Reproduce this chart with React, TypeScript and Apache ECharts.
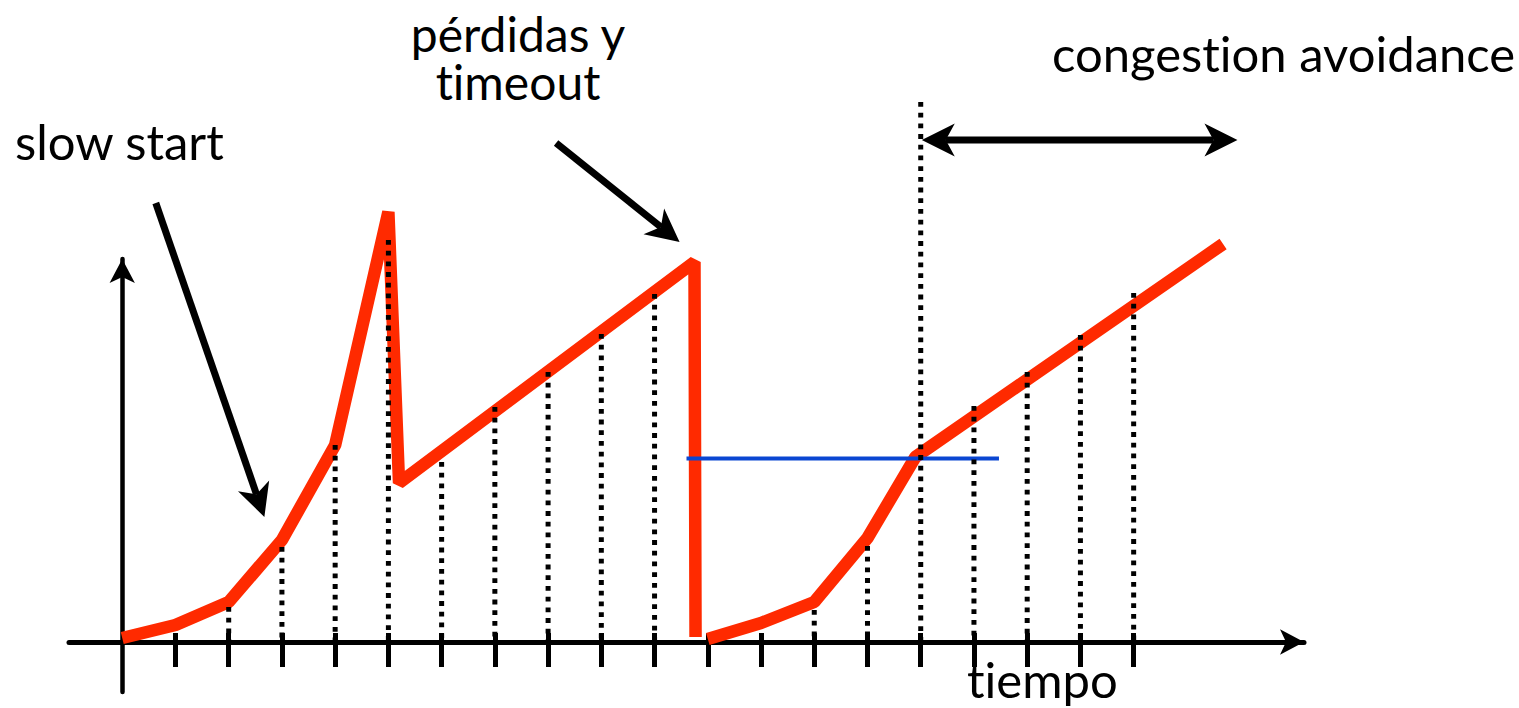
import React, { useEffect, useRef } from 'react';
import * as echarts from 'echarts';

// congestion window, first run (slow start, loss, linear growth, timeout)
const cwndRun1: number[][] = [
  [0, 0.4], [1, 1.7], [2, 4.0], [3, 10.2], [4, 19.7], [5, 43.0],
  [5.2, 15.9], [10.75, 38.0], [10.77, 0.5],
];
// congestion window, second run (slow start up to threshold, then congestion avoidance)
const cwndRun2: number[][] = [
  [11, 0.3], [12, 1.9], [13, 4.0], [14, 10.4], [14.9, 18.5], [20.68, 39.8],
];
// dotted drop lines at each time step
const dropX: number[] = [2, 3, 4, 5, 6, 7, 8, 9, 10, 13, 14, 15, 16, 17, 18, 19];
const dropTop: number[] = [3.5, 9.5, 19.7, 40.2, 18.0, 23.5, 27.0, 30.8, 34.8, 3.2, 9.6, 54.0, 23.6, 27.0, 30.7, 34.9];
// threshold (blue)
const thresholdLine: number[][] = [[10.6, 18.35], [16.47, 18.35]];
// time ticks
const tickValues: number[] = [1, 2, 3, 4, 5, 6, 7, 8, 9, 10, 11, 12, 13, 14, 15, 16, 17, 18, 19];
// annotation arrows
const arrowFrom: number[][] = [[0.63, 43.9], [8.15, 49.9], [15.02, 50.2]];
const arrowTo: number[][] = [[2.67, 12.5], [10.47, 40.0], [20.95, 50.2]];
const arrowBoth: number[] = [0, 0, 1];
// annotation texts
const labelSlow = 'slow start';
const labelLoss = 'pérdidas y\ntimeout';
const labelCA = 'congestion avoidance';
const labelTime = 'tiempo';

const RED = '#ff2a00';
const BLUE = '#0a46d2';
const FONT = 'Lato';
const FS = 49;

export default function App() {
  const ref = useRef<HTMLDivElement>(null);
  useEffect(() => {
    if (!ref.current) return;
    const chart = echarts.init(ref.current, undefined, { renderer: 'svg' });
    const dropData = dropX.map((x, i) => [x, dropTop[i]]);
    const arrowData = arrowFrom.map((f, i) => [f[0], f[1], arrowTo[i][0], arrowTo[i][1], arrowBoth[i]]);
    const txt = (text: string, x: number, baseline: number, align: string = 'left') => ({
      type: 'text',
      x,
      y: baseline - 0.3225 * FS,
      z: 10,
      style: { text, fontFamily: FONT, fontSize: FS, fill: '#000', align, verticalAlign: 'middle' },
    });
    const xBase = {
      type: 'value', min: -1, max: 22.2, interval: 1,
      axisLabel: { show: false },
      splitLine: { show: false },
    };
    chart.setOption({
      animation: false,
      backgroundColor: '#fff',
      grid: { left: 69, right: 215, top: 259, bottom: 16, containLabel: false, outerBoundsMode: 'none' },
      xAxis: [
        {
          ...xBase,
          axisLine: {
            show: true, onZero: true, symbol: ['none', 'arrow'], symbolSize: [19, 24],
            lineStyle: { color: '#000', width: 5 },
          },
          axisTick: { show: true, customValues: tickValues, length: 25, lineStyle: { color: '#000', width: 5 } },
        },
        {
          ...xBase,
          position: 'bottom',
          offset: -50,
          axisLine: { show: false, onZero: false },
          axisTick: { show: true, inside: true, customValues: tickValues, length: 9, lineStyle: { color: '#000', width: 5 } },
        },
      ],
      yAxis: {
        type: 'value', min: -5, max: 38.3,
        axisLine: {
          show: true, onZero: true, symbol: ['none', 'arrow'], symbolSize: [19, 24],
          lineStyle: { color: '#000', width: 4.5 },
        },
        axisTick: { show: false },
        axisLabel: { show: false },
        splitLine: { show: false },
      },
      graphic: [
        txt(labelSlow, 15, 157),
        {
          type: 'text',
          x: 518,
          y: 49 - 24 - 0.3225 * 48,
          z: 10,
          style: {
            text: labelLoss, fontFamily: FONT, fontSize: 48, lineHeight: 48, fill: '#000',
            align: 'center', verticalAlign: 'top',
          },
        },
        txt(labelCA, 1052, 69),
        txt(labelTime, 967, 695),
      ],
      series: [
        {
          type: 'line', data: cwndRun1, symbol: 'none', clip: false, z: 2,
          lineStyle: { color: RED, width: 12.5, join: 'bevel', cap: 'butt' },
        },
        {
          type: 'line', data: cwndRun2, symbol: 'none', clip: false, z: 2,
          lineStyle: { color: RED, width: 12.5, join: 'bevel', cap: 'butt' },
        },
        {
          type: 'line', data: thresholdLine, symbol: 'none', clip: false, z: 3,
          lineStyle: { color: BLUE, width: 4 },
        },
        {
          type: 'custom', data: dropData, z: 4, clip: false,
          renderItem: (params: any, api: any) => {
            const top = api.coord([api.value(0), api.value(1)]);
            const bot = api.coord([api.value(0), 0]);
            return {
              type: 'line',
              shape: { x1: top[0], y1: top[1], x2: bot[0], y2: bot[1] },
              style: { stroke: '#000', lineWidth: 5, lineDash: [4.8, 5.9] },
            };
          },
        },
        {
          type: 'custom', data: arrowData, z: 5, clip: false,
          renderItem: (params: any, api: any) => {
            const a = api.coord([api.value(0), api.value(1)]);
            const b = api.coord([api.value(2), api.value(3)]);
            const both = api.value(4) === 1;
            const L = 33, W = 16.5, N = 24;
            const dx = b[0] - a[0], dy = b[1] - a[1];
            const len = Math.hypot(dx, dy);
            const ux = dx / len, uy = dy / len;
            const px = -uy, py = ux;
            const head = (tip: number[], sx: number, sy: number) => {
              const bx = tip[0] - sx * L, by = tip[1] - sy * L;
              return {
                type: 'polygon',
                shape: {
                  points: [
                    [tip[0], tip[1]],
                    [bx + px * W, by + py * W],
                    [tip[0] - sx * N, tip[1] - sy * N],
                    [bx - px * W, by - py * W],
                  ],
                },
                style: { fill: '#000' },
              };
            };
            const children: any[] = [];
            const s0 = both ? [a[0] + ux * N, a[1] + uy * N] : a;
            const s1 = [b[0] - ux * N, b[1] - uy * N];
            children.push({
              type: 'line',
              shape: { x1: s0[0], y1: s0[1], x2: s1[0], y2: s1[1] },
              style: { stroke: '#000', lineWidth: 7 },
            });
            children.push(head(b, ux, uy));
            if (both) children.push(head(a, -ux, -uy));
            return { type: 'group', children };
          },
        },
      ],
    });
    return () => chart.dispose();
  }, []);
  return (
    <div
      ref={ref}
      style={{ position: 'fixed', left: 0, top: 0, width: 1519, height: 708, fontVariantLigatures: 'none' }}
    />
  );
}
